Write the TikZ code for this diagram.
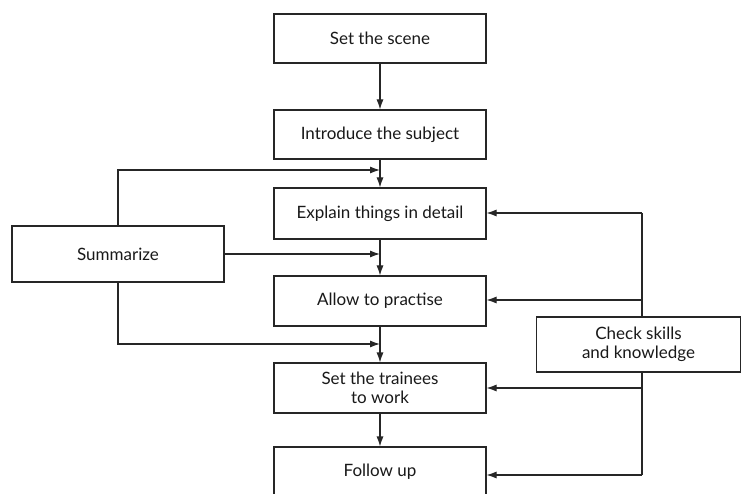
\documentclass[tikz,border=0pt]{standalone}
\usepackage{fontspec}
\setmainfont{Lato}
\usetikzlibrary{arrows.meta}
\begin{document}
\begin{tikzpicture}[x=1pt,y=-1pt,
  box/.style={draw=black!85, line width=1.1pt, fill=white, minimum width=212pt, inner sep=0pt, align=center, font=\fontsize{17}{19}\selectfont, text=black!90},
  con/.style={draw=black!85, line width=1.1pt},
  arr/.style={con, -{Latex[length=10pt,width=7pt]}}]
\clip (0,0) rectangle (741,494);
\fill[white] (0,0) rectangle (741,494);
\node[box, minimum height=49pt] (scene) at (380,38.5) {Set the scene};
\node[box, minimum height=49pt] (intro) at (380,134.5) {Introduce the subject};
\node[box, minimum height=51pt] (explain) at (380,213.5) {Explain things in detail};
\node[box, minimum height=50pt] (allow) at (380,301) {Allow to practise};
\node[box, minimum height=50pt] (trainees) at (380,388) {Set the trainees\\to work};
\node[box, minimum height=50pt] (follow) at (380,472) {Follow up};
\node[box, minimum height=56pt] (summ) at (118,254) {Summarize};
% summarize connectors
\coordinate (s1) at (380,170);
\coordinate (s2) at (380,254);
\coordinate (s3) at (380,344);
\draw[arr] (summ.north) |- (s1);
\draw[arr] (summ.east) -- (s2);
\draw[arr] (summ.south) |- (s3);
% main flow
\draw[arr] (scene) -- (intro);
\draw[arr] (intro) -- (explain);
\draw[arr] (explain) -- (allow);
\draw[arr] (allow) -- (trainees);
\draw[arr] (trainees) -- (follow);
% check connectors
\coordinate (c1) at (642,213);
\coordinate (c2) at (642,300);
\coordinate (c3) at (642,388);
\coordinate (c4) at (642,475);
\draw[con] (c1) -- (c4);
\draw[arr] (c1) -- (c1 -| explain.east);
\draw[arr] (c2) -- (c2 -| allow.east);
\draw[arr] (c3) -- (c3 -| trainees.east);
\draw[arr] (c4) -- (c4 -| follow.east);
\node[box, minimum width=204pt, minimum height=55pt] (check) at (638.5,344.5) {Check skills\\and knowledge};
\end{tikzpicture}
\end{document}
